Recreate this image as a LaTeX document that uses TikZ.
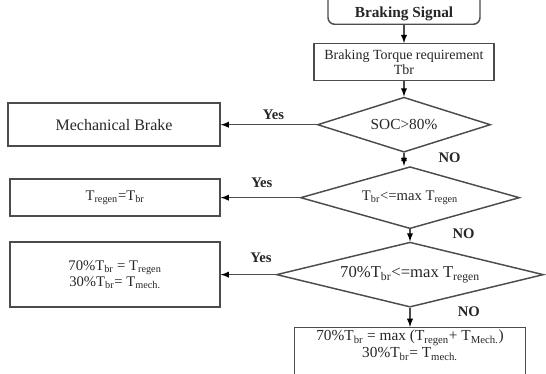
\documentclass[tikz,border=0pt]{standalone}
\usepackage{fontspec}
\setmainfont{Liberation Serif}
\usetikzlibrary{shapes.geometric,positioning}

\newcommand{\tsub}[1]{\textsubscript{#1}}

\tikzset{
  box/.style={draw=black!70, line width=1.1pt, align=center, inner sep=2pt,
    text=black!85, font=\fontsize{11}{12}\selectfont},
  check/.style={diamond, draw=black!70, line width=1.1pt, inner sep=0pt,
    align=center, text=black!85, font=\fontsize{11}{12}\selectfont},
  lbl/.style={text=black!85, font=\bfseries\fontsize{11}{12}\selectfont},
}

\begin{document}
\begin{tikzpicture}[x=0.75pt, y=-0.75pt, >=latex]
  \useasboundingbox (0,0) rectangle (546,374);
  \coordinate (corner) at (0,0);

  \node [box, rounded corners=5pt, minimum width=114pt, text height=30pt, text depth=3pt,
    anchor=south, font=\bfseries\fontsize{11.5}{12}\selectfont] (signal) at (404,25) {Braking Signal};
  \node [box, minimum width=135pt, minimum height=27.75pt, font=\fontsize{10.5}{9.5}\selectfont]
    (torque) [below=13.5pt of signal] {Braking Torque requirement\\Tbr};
  \node [check, shape aspect=3.15, minimum width=129.75pt, minimum height=41.25pt,
    font=\fontsize{11.5}{12}\selectfont] (soc) [below=11.25pt of torque] {SOC>80\%};
  \node [box, minimum width=159pt, minimum height=32.25pt, font=\fontsize{12}{12}\selectfont]
    (mech) [left=72pt of soc] {Mechanical Brake};

  \node [check, shape aspect=3.53, minimum width=164.25pt, minimum height=46.5pt]
    (regen_chk) [below=9.75pt of soc, xshift=4.5pt] {T\tsub{br}<=max T\tsub{regen}};
  \node [box, minimum width=157.5pt, minimum height=27.75pt]
    (regen) [left=59.25pt of regen_chk] {T\tsub{regen}=T\tsub{br}};

  \node [check, shape aspect=4.1, minimum width=200.25pt, minimum height=48.75pt,
    font=\fontsize{12.5}{12}\selectfont] (split_chk) [below=9pt of regen_chk]
    {70\%T\tsub{br}<=max T\tsub{regen}};
  \node [box, minimum width=157.5pt, minimum height=48.75pt]
    (split) [left=41.25pt of split_chk] {70\%T\tsub{br} = T\tsub{regen}\\30\%T\tsub{br}= T\tsub{mech.}};

  \node [box, minimum width=173.25pt, minimum height=38.25pt, font=\fontsize{11.5}{12.75}\selectfont]
    (maxbox) [below=14.25pt of split_chk]
    {70\%T\tsub{br} = max (T\tsub{regen}+ T\tsub{Mech.})\\30\%T\tsub{br}= T\tsub{mech.}\\[3pt]\mbox{}};

  \path[->, draw=black!70, line width=1.1pt]
    (signal) edge (torque)
    (torque) edge (soc)
    (soc) edge node [lbl, above, pos=0.45] {Yes} (mech)
    (soc.south) edge node [lbl, right=22pt, pos=0.4] {NO} (soc.south |- regen_chk.north)
    (regen_chk) edge node [lbl, above=4pt, pos=0.48] {Yes} (regen)
    (regen_chk) edge node [lbl, right=28pt, pos=0.35] {NO} (split_chk)
    (split_chk) edge node [lbl, above=5pt, pos=0.27] {Yes} (split)
    (split_chk) edge node [lbl, right=32pt, pos=0.2] {NO} (maxbox);

  \draw [black!35, line width=1pt] (maxbox.south west) -- (maxbox.south west -| corner);
\end{tikzpicture}
\end{document}
